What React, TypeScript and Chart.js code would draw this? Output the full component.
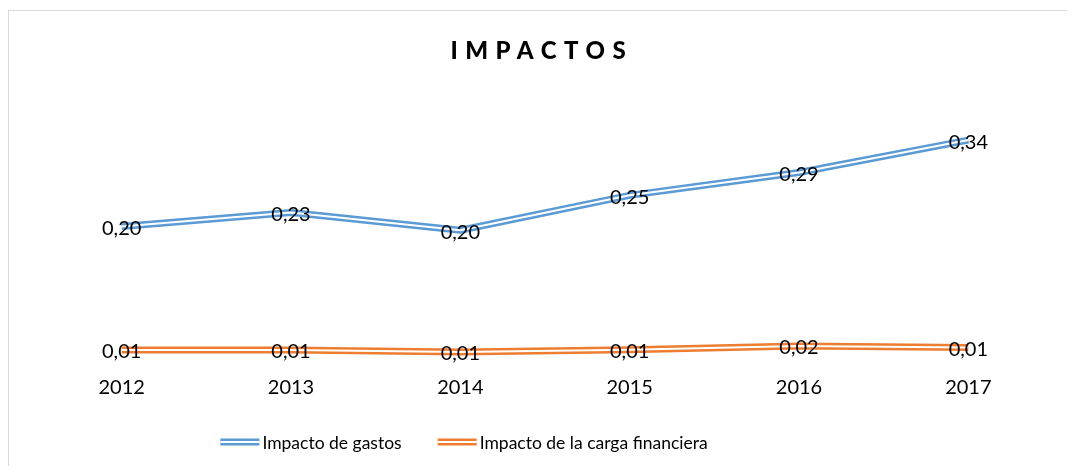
import React, { useEffect, useRef } from "react";
import { Chart, registerables } from "chart.js";

Chart.register(...registerables);

const years = ["2012", "2013", "2014", "2015", "2016", "2017"];
const impactoGastos = [0.204, 0.226, 0.198, 0.253, 0.289, 0.34];
const impactoCarga = [0.0094, 0.0094, 0.0063, 0.01, 0.0157, 0.0134];
const seriesNames = ["Impacto de gastos", "Impacto de la carga financiera"];
const seriesColors = ["#5B9BD5", "#ED7D31"];
const chartTitle = "IMPACTOS";

const FONT = "Lato";
const fmt = (v: number) => v.toFixed(2).replace(".", ",");

export default function App() {
  const ref = useRef<HTMLCanvasElement>(null);

  useEffect(() => {
    const canvas = ref.current!;

    const valueLabels = {
      id: "valueLabels",
      afterDatasetsDraw(chart: any) {
        const ctx = chart.ctx;
        ctx.save();
        ctx.font = `20px ${FONT}`;
        ctx.fillStyle = "#000";
        ctx.textAlign = "center";
        ctx.textBaseline = "middle";
        [0, 1].forEach((di) => {
          const meta = chart.getDatasetMeta(di);
          const data = chart.data.datasets[di].data as number[];
          meta.data.forEach((el: any, i: number) => {
            ctx.fillText(fmt(data[i]), el.x, el.y + 2);
          });
        });
        ctx.restore();
      },
    };

    const spacedTitle = {
      id: "spacedTitle",
      afterDraw(chart: any) {
        const ctx = chart.ctx;
        ctx.save();
        const spacing = 7.5;
        ctx.font = `900 24px ${FONT}`;
        (ctx as any).letterSpacing = `${spacing}px`;
        ctx.fillStyle = "#000";
        ctx.textAlign = "left";
        ctx.textBaseline = "middle";
        const w = ctx.measureText(chartTitle).width - spacing;
        const cx = 529;
        ctx.fillText(chartTitle, cx - w / 2, 40);
        ctx.restore();
      },
    };

    const doubleLegend = {
      id: "doubleLegend",
      afterDraw(chart: any) {
        const ctx = chart.ctx;
        ctx.save();
        ctx.font = `17.5px ${FONT}`;
        const symW = 39;
        const symGap = 3;
        const itemGap = 36;
        const widths = seriesNames.map((n) => ctx.measureText(n).width);
        const total =
          widths.reduce((a, b) => a + b, 0) + seriesNames.length * (symW + symGap) + itemGap * (seriesNames.length - 1);
        let x = 455 - total / 2;
        const y = 431;
        seriesNames.forEach((name, i) => {
          ctx.lineCap = "butt";
          ctx.strokeStyle = seriesColors[i];
          ctx.lineWidth = 7;
          ctx.beginPath();
          ctx.moveTo(x, y);
          ctx.lineTo(x + symW, y);
          ctx.stroke();
          ctx.strokeStyle = "#fff";
          ctx.lineWidth = 2;
          ctx.beginPath();
          ctx.moveTo(x, y);
          ctx.lineTo(x + symW, y);
          ctx.stroke();
          ctx.fillStyle = "#000";
          ctx.textAlign = "left";
          ctx.textBaseline = "middle";
          ctx.fillText(name, x + symW + symGap, y + 1);
          x += symW + symGap + widths[i] + itemGap;
        });
        ctx.restore();
      },
    };

    const lineDs = (label: string, data: number[], color: string, width: number, order: number) => ({
      label,
      data,
      borderColor: color,
      backgroundColor: color,
      borderWidth: width,
      pointRadius: 0,
      pointHoverRadius: 0,
      tension: 0,
      fill: false,
      order,
      borderJoinStyle: "round" as const,
    });

    const chart = new Chart(canvas, {
      type: "line",
      data: {
        labels: years,
        datasets: [
          lineDs(seriesNames[0], impactoGastos, seriesColors[0], 7, 1),
          lineDs(seriesNames[1], impactoCarga, seriesColors[1], 7, 1),
          lineDs(seriesNames[0] + " ", impactoGastos, "#ffffff", 2, 0),
          lineDs(seriesNames[1] + " ", impactoCarga, "#ffffff", 2, 0),
        ],
      },
      options: {
        animation: false,
        responsive: false,
        layout: { padding: { top: 91, left: 28, right: 14, bottom: 0 } },
        plugins: {
          legend: { display: false },
          title: { display: false },
          tooltip: { enabled: false },
        },
        scales: {
          x: {
            offset: true,
            grid: { display: false, drawTicks: false },
            border: { display: false },
            ticks: { color: "#000", font: { family: FONT, size: 20 }, padding: 20, maxRotation: 0 },
            afterFit: (s: any) => {
              s.height = 110;
            },
          },
          y: {
            display: false,
            min: 0,
            max: 0.4,
          },
        },
      },
      plugins: [valueLabels, spacedTitle, doubleLegend],
    });
    return () => chart.destroy();
  }, []);

  return (
    <div style={{ paddingTop: 2 }}>
      <div
        style={{
          width: 1058,
          height: 455,
          borderLeft: "1px solid #d9d9d9",
          borderTop: "1px solid #d9d9d9",
        }}
      >
        <canvas ref={ref} width={1058} height={455} style={{ display: "block" }} />
      </div>
    </div>
  );
}
